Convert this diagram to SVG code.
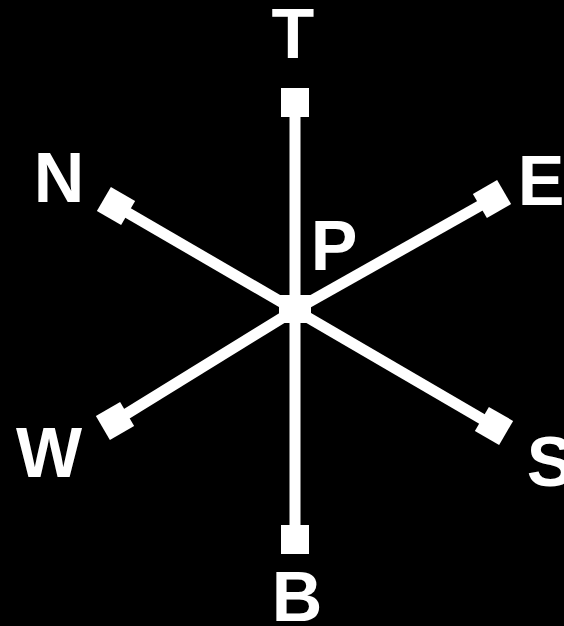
<svg xmlns="http://www.w3.org/2000/svg" width="564" height="626" viewBox="0 0 564 626">
<style>
.ln{stroke:#fff;stroke-width:11;fill:none}
.sq{fill:#fff}
.lb{fill:#fff;font-family:"Liberation Sans",Arial,sans-serif;font-weight:bold;font-size:70px;text-anchor:middle}
</style>
<rect width="564" height="626" fill="#000"/>
<g id="connectors">
<line class="ln" x1="295" y1="310" x2="295" y2="102"/>
<line class="ln" x1="295" y1="310" x2="295" y2="540"/>
<line class="ln" x1="295" y1="310" x2="116" y2="206"/>
<line class="ln" x1="295" y1="310" x2="492" y2="199"/>
<line class="ln" x1="295" y1="310" x2="115" y2="421"/>
<line class="ln" x1="295" y1="310" x2="494" y2="426"/>
</g>
<g id="P"><rect class="sq" x="279" y="295" width="32" height="28"/><text class="lb" x="334" y="270">P</text></g>
<g id="T"><rect class="sq" x="281" y="88" width="28" height="29"/><text class="lb" x="293" y="58">T</text></g>
<g id="B"><rect class="sq" x="281" y="525" width="28" height="29"/><text class="lb" x="297" y="621">B</text></g>
<g id="N"><rect class="sq" x="-14" y="-14" width="28" height="28" transform="translate(116 206) rotate(30)"/><text class="lb" x="59" y="202">N</text></g>
<g id="E"><rect class="sq" x="-14" y="-14" width="28" height="28" transform="translate(492 199) rotate(-30)"/><text class="lb" x="541" y="205">E</text></g>
<g id="W"><rect class="sq" x="-14" y="-14" width="28" height="28" transform="translate(115 421) rotate(-30)"/><text class="lb" x="49" y="477">W</text></g>
<g id="S"><rect class="sq" x="-14" y="-14" width="28" height="28" transform="translate(494 426) rotate(30)"/><text class="lb" x="550" y="486">S</text></g>
</svg>
